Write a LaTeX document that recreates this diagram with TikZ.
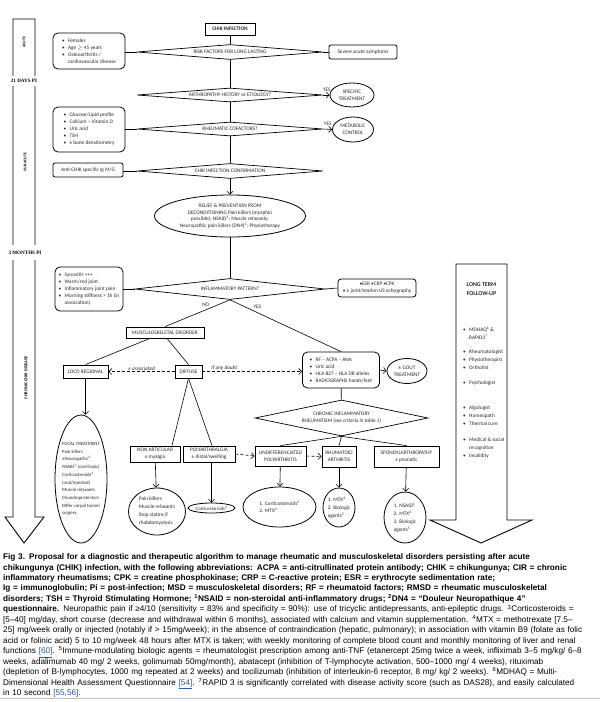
\documentclass[tikz,border=0pt]{standalone}
\usepackage{fontspec}
\setmainfont{Carlito}
\newfontfamily\capfont{Liberation Sans}
\newfontfamily\serfont{Liberation Serif}
\usepackage{tikz}
\usetikzlibrary{positioning,shapes.geometric,arrows.meta}
\newcommand{\fs}{\fontsize{5.3}{7}\selectfont}
\newcommand{\itm}{\makebox[6pt][l]{\textbullet}}
\newcommand{\itmc}{\hspace*{6pt}}
\newcommand{\sps}[1]{\textsuperscript{#1}}
\definecolor{linkblue}{RGB}{40,90,170}
\tikzset{
  box/.style={draw, line width=0.8pt, inner sep=1pt, font=\fs, align=center, text=black!85},
  rbox/.style={box, rounded corners=5pt, align=left},
  dia/.style={draw, line width=0.7pt, diamond, aspect=10, inner sep=0pt, font=\fs, align=center, text=black!85},
  oval/.style={draw, line width=0.8pt, ellipse, inner xsep=-4pt, inner ysep=-1pt, font=\fs, align=center, text=black!85},
  link/.style={line width=0.6pt},
  arr/.style={link, -{Straight Barb[length=3pt,width=6pt]}},
  dasharr/.style={arr, dash pattern=on 3pt off 2pt},
  bigarrow/.style={draw, line width=0.9pt},
  period/.style={fill=white, inner xsep=1pt, font=\serfont\bfseries\fontsize{5.1}{6}\selectfont},
  phase/.style={rotate=90, inner sep=0pt, font=\bfseries\fontsize{3.9}{4}\selectfont},
  lbl/.style={font=\fs, inner sep=1pt, text=black!85}
}
\begin{document}
\begin{tikzpicture}[x=1pt,y=-1pt]
\useasboundingbox (0,0) rectangle (600,702);
\draw[bigarrow] (13,19) -- (35,19) -- (35,517) -- (44,517) -- (24,543) -- (5,517) -- (13,517) -- cycle;
\node[period, inner ysep=3pt] (d21) at (24,81) {21 DAYS PI};
\node[period, inner ysep=5.5pt] (m3) at (25,252.5) {3 MONTHS PI};
\node[phase] (acute) at (24,42) {ACUTE};
\node[phase] (subacute) at (25,162) {SUB ACUTE};
\node[phase, font=\bfseries\fontsize{4.4}{5}\selectfont] (chronic) at (26,378) {CHRONIC CHIK DISEASE};

\draw[bigarrow] (456,264) -- (507,264) -- (507,520) -- (532,520) -- (481,543) -- (430,520) -- (456,520) -- cycle;
\node[align=center, font=\bfseries\fontsize{5.9}{9}\selectfont, text=black!85] (lt) at (481.5,289.5) {LONG TERM\\FOLLOW-UP};
\node[anchor=north west, inner sep=0pt, align=left, font=\fontsize{5.3}{8}\selectfont, text=black!85] (ltlist) at (463,327) {\itm MDHAQ\sps{6} \&\\\itmc RAPID3\sps{7}\\[6pt]\itm Rheumatologist\\\itm Physiotherapist\\\itm Orthotist\\[7pt]\itm Psychologist\\[17pt]\itm Algologist\\\itm Homeopath\\\itm Thermal cure\\[8pt]\itm Medical \& social\\\itmc recognition\\\itm Invalidity};

\node[box, font=\fs\bfseries, minimum width=50pt, minimum height=12pt] (chik) at (230,29) {CHIK INFECTION};
\node[dia, minimum width=186pt, minimum height=15pt] (risk) at (230,52) {RISK FACTORS FOR LONG LASTING};
\node[rbox, minimum width=72pt, minimum height=36pt] (fem) at (89,51) {\itm Females\\\itm Age $\geq$ 45 years\\\itm Osteoarthritis /\\\itmc cardiovascular disease};
\node[rbox, rounded corners=2pt, align=center, minimum width=68pt, minimum height=14pt] (sev) at (363,52) {Severe acute symptoms};
\node[dia, minimum width=186pt, minimum height=14pt] (arth) at (230,95) {ARTHROPATHY HISTORY or ETIOLOGY?};
\node[oval, minimum width=44pt, minimum height=24pt] (spec) at (352,95) {SPECIFIC\\TREATMENT};
\node[rbox, minimum width=72pt, minimum height=45pt] (gluc) at (89,129.5) {\itm Glucose/Lipid profile\\\itm Calcium – Vitamin D\\\itm Uric acid\\\itm TSH\\\itm ± bone densitometry};
\node[dia, minimum width=186pt, minimum height=14pt] (cof) at (230,129) {RHEUMATIC COFACTORS?};
\node[oval, minimum width=41pt, minimum height=25pt] (meta) at (353,129.5) {METABOLIC\\CONTROL};
\node[rbox, rounded corners=2pt, minimum width=70pt, minimum height=14pt] (anti) at (88,170) {Anti-CHIK specific Ig M/G};
\node[dia, minimum width=186pt, minimum height=15pt] (conf) at (230,171) {CHIK INFECTION CONFIRMATION};
\node[oval, inner xsep=-4pt, font=\fontsize{5.3}{6.7}\selectfont, minimum width=151pt, minimum height=42pt] (relief) at (230,216) {RELIEF \& PREVENTION FROM\\DECONDITIONING Pain killers (morphin\\possible); NSAID\sps{1}; Muscle relaxants;\\Neuropathic pain killers (DN4)\sps{2}; Physiotherapy};
\node[dia, minimum width=190pt, minimum height=21pt] (infl) at (230,289) {INFLAMMATORY PATTERN?};
\node[rbox, minimum width=68pt, minimum height=44pt] (syn) at (89,289) {\itm Synovitis +++\\\itm Warm/red joint\\\itm Inflammatory joint pain\\\itm Morning stiffness > 1h (in\\\itmc association)};
\node[rbox, rounded corners=3pt, align=center, minimum width=78pt, minimum height=18pt] (esr) at (377,288) {\textbullet ESR \textbullet CRP \textbullet CPK\\\textbullet\ ± joint/tendon US echography};
\node[box, minimum width=78pt, minimum height=11pt] (msd) at (165,332.5) {MUSCULOSKELETAL DISORDER};
\node[box, minimum width=45pt, minimum height=13pt] (loco) at (85.5,371.5) {LOCO REGIONAL};
\node[box, minimum width=27pt, minimum height=13pt] (diff) at (188.5,371.5) {DIFFUSE};
\node[rbox, minimum width=77pt, minimum height=36pt] (rf) at (341,370) {\itm RF – ACPA – ANA\\\itm Uric acid\\\itm HLA B27 – HLA DR alleles\\\itm RADIOGRAPHS hands/feet};
\node[oval, minimum width=40pt, minimum height=25pt] (gout) at (407,371) {± GOUT\\TREATMENT};
\node[dia, aspect=4.8, minimum width=173pt, minimum height=36pt] (cir) at (341.5,418) {CHRONIC INFLAMMATORY\\RHEUMATISM (\textit{see criteria in table 1})};
\node[oval, inner xsep=-10pt, align=left, font=\fontsize{4.8}{7.7}\selectfont, minimum width=52pt, minimum height=128pt] (focal) at (81,479) {FOCAL TREATMENT\\Pain killers\\±Neuropathic\sps{2}\\NSAID\sps{1} (oral/topic)\\Corticosteroids\sps{3}\\(oral/injected)\\Muscle relaxants\\Chondroprotectors\\Differ carpal tunnel\\surgery};
\node[box, minimum width=50pt, minimum height=16pt] (nart) at (155,454) {NON ARTICULAR\\± myalgia};
\node[box, minimum width=52pt, minimum height=16pt] (poly) at (209,454) {POLYARTHRALGIA\\± distal/swelling};
\node[box, minimum width=51pt, minimum height=20pt] (undiff) at (280.5,456) {UNDIFFERENCIATED\\POLYARTHRITIS};
\node[box, minimum width=34pt, minimum height=21pt] (rhum) at (339,456.5) {RHUMATOID\\ARTHRITIS};
\node[box, minimum width=65pt, minimum height=21pt] (spon) at (406.5,456.5) {SPONDYLARTHROPATHY\\± psoriatic};
\node[oval, align=left, font=\fontsize{5.3}{8}\selectfont, minimum width=57pt, minimum height=47pt] (o1) at (157,511.5) {Pain killers\\Muscle relaxants\\Stop statins if\\rhabdomyolysis};
\node[oval, font=\fontsize{4.8}{6}\selectfont, minimum width=47pt, minimum height=10pt] (o2) at (211.5,508) {Corticosteroids\sps{3}};
\node[oval, align=left, minimum width=73pt, minimum height=40pt] (o3) at (279.5,507) {1. Corticosteroids\sps{3}\\2. MTX\sps{4}};
\node[oval, align=left, font=\fontsize{5.3}{8}\selectfont, minimum width=32pt, minimum height=39pt] (o4) at (339,507.5) {1. MTX\sps{4}\\2. Biologic\\agents\sps{5}};
\node[oval, align=left, font=\fontsize{5.3}{8}\selectfont, minimum width=42pt, minimum height=51pt] (o5) at (405,517.5) {1. NSAID\sps{1}\\2. MTX\sps{4}\\3. Biologic\\agents\sps{5}};

\draw[link] (chik) -- (risk);
\draw[link] (risk.west -| fem.east) -- (risk.west);
\draw[link] (risk.east) -- (sev.west);
\draw[link] (risk) -- (arth);
\draw[arr] (arth.east) -- (spec.west) node[lbl, pos=0.55, above=2pt] {YES};
\draw[link] (arth) -- (cof);
\draw[link] (cof.west -| gluc.east) -- (cof.west);
\draw[arr] (cof.east) -- (meta.west) node[lbl, pos=0.5, above=2pt] {YES};
\draw[link] (cof) -- (conf);
\draw[link] (conf.west -| anti.east) -- (conf.west);
\draw[arr] (conf) -- (relief);
\draw[link] (relief) -- (infl);
\draw[link] (infl.west -| syn.east) -- (infl.west);
\draw[link] (infl.east) -- (esr.west);
\draw[link] (infl.south) -- (msd.north) node[lbl, pos=0.3, above left] {NO};
\draw[link] (infl.south) -- (rf.north) node[lbl, pos=0.2, above right] {YES};
\draw[link] ([xshift=-15pt]msd.south) -- (loco.north);
\draw[link] ([xshift=2pt]msd.south) -- (diff.north);
\draw[dasharr] (diff.west) -- (loco.east) node[lbl, midway, above, font=\fs\itshape] {± associated};
\draw[dasharr] (diff.east) -- (diff.east -| rf.west) node[lbl, pos=0.22, above, font=\fs\itshape] {If any doubt};
\draw[arr] (rf.east) -- (gout.west);
\draw[arr] (loco.south) -- (loco.south |- focal.north);
\draw[link] (diff.south) -- ([xshift=17pt]nart.north);
\draw[link] (diff.south) -- ([xshift=3pt]poly.north);
\draw[arr] (nart) -- (o1);
\draw[arr] (o2.north |- poly.south) -- (o2.north);
\draw[dasharr] (poly.east) -- (undiff.west);
\draw[dasharr] (undiff.east) -- (rhum.west);
\draw[link] (rf) -- (cir);
\draw[link] (cir.south) -- (undiff.north);
\draw[link] (cir.south) -- (rhum.north);
\draw[link] (cir.south) -- (spon.north);
\draw[arr] (undiff) -- (o3);
\draw[arr] (rhum) -- (o4);
\draw[arr] (spon) -- (o5);

\node[anchor=north west, inner sep=0pt, text width=640pt, align=left, font=\capfont\fontsize{8.2}{10.45}\selectfont] (cap) at (3,553.5) {\bfseries Fig 3. Proposal for a diagnostic and therapeutic algorithm to manage rheumatic and musculoskeletal disorders persisting after acute\\
chikungunya (CHIK) infection, with the following abbreviations: ACPA = anti-citrullinated protein antibody; CHIK = chikungunya; CIR = chronic\\
inflammatory rheumatisms; CPK = creatine phosphokinase; CRP = C-reactive protein; ESR = erythrocyte sedimentation rate;\\
Ig = immunoglobulin; Pi = post-infection; MSD = musculoskeletal disorders; RF = rheumatoid factors; RMSD = rheumatic musculoskeletal\\
disorders; TSH = Thyroid Stimulating Hormone; \textsuperscript{1}NSAID = non-steroidal anti-inflammatory drugs; \textsuperscript{2}DN4 = “Douleur Neuropathique 4”\\
questionnaire.\mdseries{} Neuropathic pain if ≥4/10 (sensitivity = 83\% and specificity = 90\%): use of tricyclic antidepressants, anti-epileptic drugs. \textsuperscript{3}Corticosteroids =\\
{[}5–40] mg/day, short course (decrease and withdrawal within 6 months), associated with calcium and vitamin supplementation. \textsuperscript{4}MTX = methotrexate [7.5–\\
25] mg/week orally or injected (notably if > 15mg/week); in the absence of contraindication (hepatic, pulmonary); in association with vitamin B9 (folate as folic\\
acid or folinic acid) 5 to 10 mg/week 48 hours after MTX is taken; with weekly monitoring of complete blood count and monthly monitoring of liver and renal\\
functions \textcolor{linkblue}{\underline{[60]}}. \textsuperscript{5}Immune-modulating biologic agents = rheumatologist prescription among anti-TNF (etanercept 25mg twice a week, infliximab 3–5 mg/kg/ 6–8\\
weeks, adalimumab 40 mg/ 2 weeks, golimumab 50mg/month), abatacept (inhibition of T-lymphocyte activation, 500–1000 mg/ 4 weeks), rituximab\\
(depletion of B-lymphocytes, 1000 mg repeated at 2 weeks) and tocilizumab (inhibition of interleukin-6 receptor, 8 mg/ kg/ 2 weeks). \textsuperscript{6}MDHAQ = Multi-\\
Dimensional Health Assessment Questionnaire \textcolor{linkblue}{\underline{[54]}}. \textsuperscript{7}RAPID 3 is significantly correlated with disease activity score (such as DAS28), and easily calculated\\
in 10 second \textcolor{linkblue}{\underline{[55,56]}}.};
\draw[black!25, line width=1.5pt] (0,698.5) -- (600,698.5);
\end{tikzpicture}
\end{document}
